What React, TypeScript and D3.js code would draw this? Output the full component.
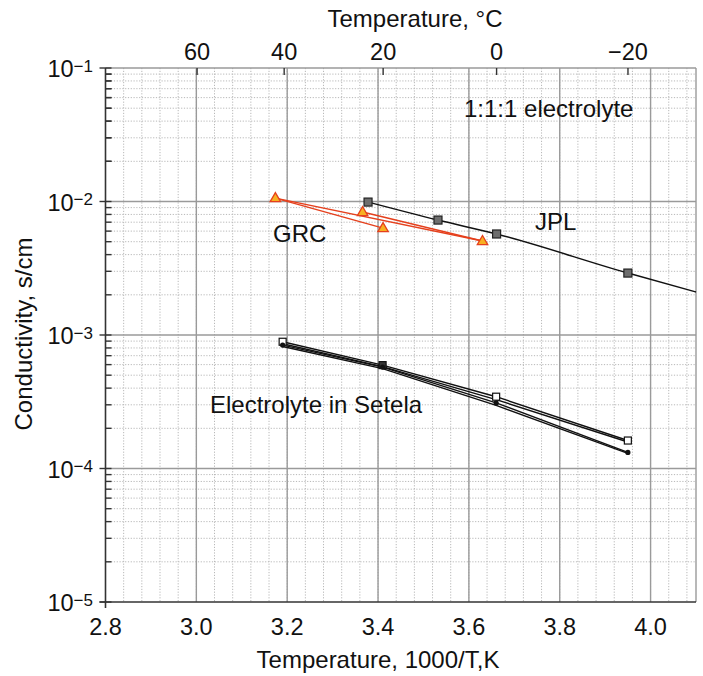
import React from "react";
import * as d3 from "d3";

// ---------- data ----------
const xTickValues = [2.8, 3.0, 3.2, 3.4, 3.6, 3.8, 4.0];
const xTickLabels = ["2.8", "3.0", "3.2", "3.4", "3.6", "3.8", "4.0"];
const topTicksC = [60, 40, 20, 0, -20];
const topTickLabels = ["60", "40", "20", "0", "\u221220"];
const yDecadeExps = [-1, -2, -3, -4, -5];

// JPL (1:1:1 electrolyte)
const jplX = [3.378, 3.532, 3.661, 3.95];
const jplY = [0.0099, 0.00726, 0.00571, 0.00291];
const jplCurveX = [3.378, 3.532, 3.661, 3.95, 4.1];
const jplCurveY = [0.0099, 0.00726, 0.00571, 0.00291, 0.0021];

// GRC
const grcX = [3.174, 3.366, 3.411, 3.63];
const grcY = [0.0106, 0.00834, 0.00632, 0.00506];
const grcRuns = [
  [0, 2],
  [0, 3],
  [1, 3],
];

// Electrolyte in Setela
const setelaX = [3.19, 3.41, 3.66, 3.95];
const setelaA = [8.9e-4, 5.95e-4, 3.45e-4, 1.62e-4];
const setelaB = [8.6e-4, 5.8e-4, 3.28e-4, 1.58e-4];
const setelaC = [8.4e-4, 5.75e-4, 3.1e-4, 1.32e-4];
const setelaD = [8.2e-4, 5.6e-4, 2.97e-4, 1.3e-4];

// ---------- layout ----------
const W = 703;
const H = 676;
const L = 105.5;
const R = 696;
const T = 68;
const B = 602;
const FONT = "'Liberation Sans', Arial, Helvetica, sans-serif";
const TICK_FS = 23.5;
const TITLE_FS = 24;

export default function App() {
  const x = d3.scaleLinear().domain([2.8, 4.1]).range([L, R]);
  const y = d3.scaleLog().domain([1e-5, 1e-1]).range([B, T]);

  const xMinor = d3.range(0, 33).map((i) => 2.8 + i * 0.04).filter((v) => v <= 4.1 + 1e-9);
  const yMinor: number[] = [];
  for (let e = -5; e < -1; e++) {
    for (let m = 2; m <= 9; m++) yMinor.push(m * Math.pow(10, e));
  }
  const yMajor = yDecadeExps.map((e) => Math.pow(10, e));

  const lineGen = (xs: number[], ys: number[], curve = d3.curveLinear) =>
    d3
      .line<number>()
      .x((_, i) => x(xs[i]))
      .y((v) => y(v))
      .curve(curve)(ys) || "";

  const triPath = (cx: number, cy: number, s: number) =>
    `M${cx},${cy - s}L${cx + s * 0.95},${cy + s * 0.65}L${cx - s * 0.95},${cy + s * 0.65}Z`;

  const setelaRuns = [setelaA, setelaB, setelaC, setelaD];

  return (
    <svg
      width={W}
      height={H}
      style={{ position: "absolute", left: 0, top: 0, background: "#fff" }}
      fontFamily={FONT}
    >
      <rect x={0} y={0} width={W} height={H} fill="#fff" />
      {/* minor grid */}
      <g stroke="#b8b8b8" strokeWidth={1} strokeDasharray="1.2,1.6">
        {xMinor.map((v, i) => (
          <line key={"xm" + i} x1={x(v)} x2={x(v)} y1={T} y2={B} />
        ))}
        {yMinor.map((v, i) => (
          <line key={"ym" + i} x1={L} x2={R} y1={y(v)} y2={y(v)} />
        ))}
      </g>
      {/* major grid */}
      <g stroke="#9a9a9a" strokeWidth={1.4}>
        {xTickValues.slice(1).map((v, i) => (
          <line key={"xM" + i} x1={x(v)} x2={x(v)} y1={T} y2={B} />
        ))}
        {yMajor.slice(1, 4).map((v, i) => (
          <line key={"yM" + i} x1={L} x2={R} y1={y(v)} y2={y(v)} />
        ))}
      </g>
      {/* border top/right */}
      <line x1={L} x2={R} y1={T} y2={T} stroke="#9a9a9a" strokeWidth={1.4} />
      <line x1={R} x2={R} y1={T} y2={B} stroke="#9a9a9a" strokeWidth={1.4} />

      {/* Setela lines */}
      <g fill="none" stroke="#111" strokeWidth={1.4}>
        {setelaRuns.map((ys, i) => (
          <path key={"s" + i} d={lineGen(setelaX, ys)} />
        ))}
      </g>
      {setelaA.map((v, i) => (
        <rect
          key={"sa" + i}
          x={x(setelaX[i]) - 3.5}
          y={y(v) - 3.5}
          width={7}
          height={7}
          fill={i === 1 ? "#333" : "#fff"}
          stroke="#111"
          strokeWidth={1.2}
        />
      ))}
      {setelaC.map((v, i) => (
        <circle key={"sc" + i} cx={x(setelaX[i])} cy={y(v)} r={2.6} fill="#111" />
      ))}

      {/* JPL */}
      <path
        d={lineGen(jplCurveX, jplCurveY, d3.curveMonotoneX)}
        fill="none"
        stroke="#111"
        strokeWidth={1.5}
      />
      {jplY.map((v, i) => (
        <rect
          key={"j" + i}
          x={x(jplX[i]) - 4}
          y={y(v) - 4}
          width={8}
          height={8}
          fill="#6e6e6e"
          stroke="#222"
          strokeWidth={1.2}
        />
      ))}

      {/* GRC */}
      <g fill="none" stroke="#e5401d" strokeWidth={1.5}>
        {grcRuns.map((r, i) => (
          <path
            key={"g" + i}
            d={lineGen(
              r.map((k) => grcX[k]),
              r.map((k) => grcY[k])
            )}
          />
        ))}
      </g>
      {grcY.map((v, i) => (
        <path
          key={"gt" + i}
          d={triPath(x(grcX[i]), y(v), 5.5)}
          fill="#f7b021"
          stroke="#e5401d"
          strokeWidth={1.3}
        />
      ))}

      {/* left axis */}
      <line x1={L} x2={L} y1={T} y2={B + 6} stroke="#333" strokeWidth={1.6} />
      <g stroke="#333" strokeWidth={1.4}>
        {yMajor.map((v, i) => (
          <line key={"ytM" + i} x1={L - 6} x2={L + 6} y1={y(v)} y2={y(v)} />
        ))}
        {yMinor
          .concat(d3.range(2, 10).map((m) => m * 1e-2))
          .map((v, i) => (
            <line key={"ytm" + i} x1={L} x2={L + 6} y1={y(v)} y2={y(v)} />
          ))}
      </g>
      {yDecadeExps.map((e, i) => (
        <text
          key={"yl" + i}
          x={93}
          y={y(Math.pow(10, e)) + 9}
          textAnchor="end"
          fontSize={TICK_FS}
          fill="#111"
        >
          10
          <tspan dy={-5.5} fontSize={17}>
            {"\u2212" + Math.abs(e)}
          </tspan>
        </text>
      ))}

      {/* bottom axis */}
      <line x1={L - 6} x2={R} y1={B} y2={B} stroke="#333" strokeWidth={1.6} />
      {xTickValues.map((v, i) => (
        <text
          key={"xl" + i}
          x={x(v)}
          y={635}
          textAnchor="middle"
          fontSize={TICK_FS}
          fill="#111"
        >
          {xTickLabels[i]}
        </text>
      ))}
      <text x={378} y={668} textAnchor="middle" fontSize={TITLE_FS} fill="#111">
        Temperature, 1000/T,K
      </text>

      {/* top axis (°C) */}
      {topTicksC.map((c, i) => {
        const px = x(1000 / (c + 273.15));
        return (
          <g key={"tc" + i}>
            <line x1={px} x2={px} y1={T} y2={T + 7} stroke="#333" strokeWidth={1.4} />
            <text x={px} y={60} textAnchor="middle" fontSize={TICK_FS} fill="#111">
              {topTickLabels[i]}
            </text>
          </g>
        );
      })}
      <text x={415} y={27} textAnchor="middle" fontSize={TITLE_FS} fill="#111">
        Temperature, °C
      </text>

      {/* y title */}
      <text
        transform={`translate(32,334) rotate(-90)`}
        textAnchor="middle"
        fontSize={TITLE_FS}
        fill="#111"
      >
        Conductivity, s/cm
      </text>

      {/* annotations */}
      <text x={464} y={117} fontSize={TITLE_FS} fill="#111">
        1:1:1 electrolyte
      </text>
      <text x={535} y={230} fontSize={TITLE_FS} fill="#111">
        JPL
      </text>
      <text x={273} y={242} fontSize={TITLE_FS} fill="#111">
        GRC
      </text>
      <text x={210} y={413} fontSize={TITLE_FS} fill="#111">
        Electrolyte in Setela
      </text>
    </svg>
  );
}
